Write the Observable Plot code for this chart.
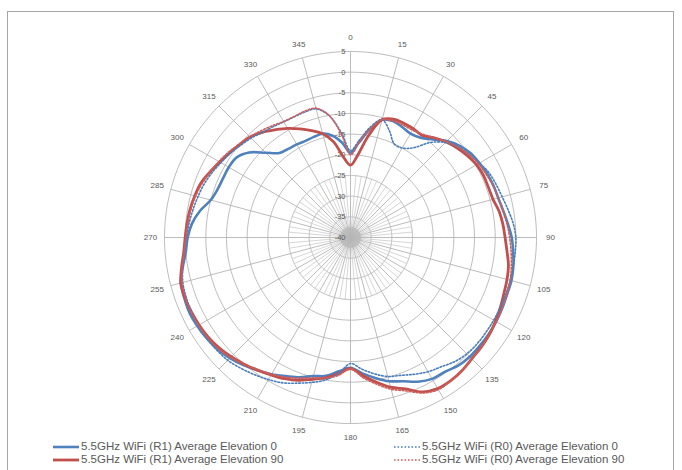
<!DOCTYPE html>
<html>
<head>
<meta charset="utf-8">
<script src="https://cdn.jsdelivr.net/npm/d3@7"></script>
<script src="https://cdn.jsdelivr.net/npm/@observablehq/plot@0.6"></script>
<style>
  body { margin: 0; background: #fff; font-family: "Liberation Sans", Arial, sans-serif; }
  #frame { position: absolute; left: 7px; top: 11px; width: 667px; height: 470px; border: 1.5px solid #a6a6a6; box-sizing: border-box; }
  #chart { position: absolute; left: 0; top: 0; }
  .lg { position: absolute; display: flex; align-items: center; font-size: 11.5px; color: #595959; white-space: nowrap; line-height: 13px; }
  .lg svg { margin-right: 2px; }
</style>
</head>
<body>
<div id="frame"></div>
<div id="chart"></div>
<div id="legend"></div>
<script>
// ---------- data ----------
const angles = [0,5,10,15,20,25,30,35,40,45,50,55,60,65,70,75,80,85,90,95,100,105,110,115,120,125,130,135,140,145,150,155,160,165,170,175,180,185,190,195,200,205,210,215,220,225,230,235,240,245,250,255,260,265,270,275,280,285,290,295,300,305,310,315,320,325,330,335,340,345,350,355];

const r1Elev0 = [-19.5,-17,-13.5,-10.5,-10,-10.5,-11,-10.5,-9,-7,-5.5,-4.5,-4,-3.5,-3.2,-3,-2.5,-1.8,-1,-0.5,0,0.3,0.3,0.5,0.7,0.8,0.8,0.8,0.5,-0.3,-0.5,-1.5,-3,-4,-5.5,-7,-8.5,-7.5,-6,-5.3,-4,-3,-1.8,-0.8,0.3,1.3,2,2.5,2.8,3,2.8,2.5,1.2,0,-0.6,-1.5,-3,-5,-5.8,-6,-6,-6.3,-8,-11,-13.3,-13.8,-14,-14.2,-14.1,-14,-15,-17];

const r1Elev90 = [-22.5,-20,-15,-10.5,-9.5,-9.5,-9.6,-9.8,-8.5,-7.3,-6.3,-5.5,-4.8,-4.5,-4.5,-4.3,-3.5,-3,-2.6,-2,-1.2,-0.8,-0.5,0,0.5,1,1.3,1.5,2,2.3,2.2,1.2,-1,-2.5,-4.5,-6.5,-8.3,-7,-5.5,-4.5,-3.2,-2.3,-1.6,-0.8,0,0.8,1.5,2,2.3,2.5,2.6,2.5,1.5,0.5,0,-0.3,-0.6,-1,-1.5,-2.5,-3.5,-4.3,-5,-5.6,-6.8,-8.2,-9.5,-11,-12.5,-14,-16.5,-20.5];

const r0Elev0 = [-19,-16.5,-13,-10.5,-12.5,-15,-15,-13.5,-10,-7.5,-6,-5,-4,-3,-2.5,-2,-1.3,-0.5,0,0,0,0,0,0,0,0,0,-0.2,-0.8,-1.8,-2.5,-3.5,-4.5,-5.2,-6.5,-8,-9.5,-7,-5,-3.7,-2.5,-1.2,-0.3,0.5,1.3,2,2.3,2.5,2.5,2.5,2.3,2,1.2,0.3,-0.3,-0.8,-1.3,-1.8,-2.3,-3,-3.8,-4.5,-5.3,-6,-6.8,-7.3,-7.7,-7.8,-7.7,-7.8,-10,-14.5];

const r0Elev90 = [-20,-17,-13.5,-10.5,-10,-10,-10,-9.5,-8.5,-7.2,-6,-5,-4.3,-3.8,-3.3,-3,-2.5,-2,-1.5,-1,-0.5,0,0.3,0.5,0.7,1,1.3,1.6,2,2.3,2.5,1.5,-0.5,-2,-4,-6,-8.3,-6.5,-5.5,-4.8,-3.8,-2.7,-1.8,-1,0,1,1.8,2.2,2.5,2.6,2.5,2.2,1.3,0.4,-0.2,-0.5,-0.8,-1.2,-1.8,-2.5,-3.2,-4,-4.8,-5.5,-6.3,-7,-7.6,-7.7,-7.5,-7.6,-10,-15];

const seriesNames = [
  "5.5GHz WiFi (R1) Average Elevation 0",
  "5.5GHz WiFi (R1) Average Elevation 90",
  "5.5GHz WiFi (R0) Average Elevation 0",
  "5.5GHz WiFi (R0) Average Elevation 90"
];
const angleTicks = [0,15,30,45,60,75,90,105,120,135,150,165,180,195,210,225,240,255,270,285,300,315,330,345];
const ringTicks = [5,0,-5,-10,-15,-20,-25,-30,-35,-40];

// ---------- config ----------
const rMin = -40, rMax = 5;
const styles = [
  {stroke: "#4f81bd", strokeWidth: 2.6, dash: null},
  {stroke: "#c0504d", strokeWidth: 2.8, dash: null},
  {stroke: "#4a7ebb", strokeWidth: 1.6, dash: "1.6,1.9"},
  {stroke: "#cf5f5b", strokeWidth: 1.6, dash: "1.6,1.9"}
];
const seriesValues = [r1Elev0, r1Elev90, r0Elev0, r0Elev90];
const rows = seriesValues.flatMap((vals, i) => vals.map((v, j) => ({series: seriesNames[i], angle: angles[j], value: v})));

const lon = a => 180 - a;                 // compass angle -> longitude
const lat = v => 90 - (v - rMin);         // dB value -> latitude
const circle = r => d3.geoCircle().center([0, 90]).radius(r).precision(1)();

const minorSpokes = d3.range(0, 360, 5).filter(a => a % 15 !== 0);
const fineSpokes = d3.range(0, 360, 1.5);

const marks = [
  Plot.geo(ringTicks.filter(v => v > rMin), {geometry: v => circle(v - rMin), stroke: "#b4b4b4", strokeWidth: 0.9, fill: "none"}),
  Plot.link(fineSpokes, {x1: lon, y1: lat(-37.5), x2: lon, y2: 90, stroke: "#b8b8b8", strokeWidth: 0.6}),
  Plot.link(minorSpokes, {x1: lon, y1: lat(-25), x2: lon, y2: 90, stroke: "#c4c4c4", strokeWidth: 0.7}),
  Plot.link(angleTicks, {x1: lon, y1: lat(rMax), x2: lon, y2: 90, stroke: "#b4b4b4", strokeWidth: 0.9}),
  Plot.text(ringTicks, {x: lon(0), y: lat, text: d => String(d), textAnchor: "end", dx: -5, fontSize: 7.5, fill: "#595959"}),
  Plot.text(angleTicks, {x: lon, y: lat(rMax + 3.4), text: d => String(d), fontSize: 8, fill: "#595959"})
];
seriesNames.forEach((name, i) => {
  const s = styles[i];
  marks.push(Plot.line(rows.filter(d => d.series === name), {
    x: d => lon(d.angle), y: d => lat(d.value),
    stroke: s.stroke, strokeWidth: s.strokeWidth, strokeDasharray: s.dash,
    curve: "catmull-rom-closed", strokeLinejoin: "round"
  }));
});

const chart = Plot.plot({
  width: 682,
  height: 446,
  marginLeft: 164,
  marginRight: 146,
  marginTop: 51,
  marginBottom: 23,
  style: {background: "transparent", fontFamily: "Liberation Sans, Arial, sans-serif", overflow: "visible"},
  projection: {
    type: "azimuthal-equidistant",
    rotate: [0, -90],
    domain: circle(rMax - rMin),
    inset: 0,
    clip: false
  },
  marks
});
document.getElementById("chart").appendChild(chart);

// ---------- legend ----------
const legendPos = [
  {left: 53, top: 440}, {left: 53, top: 453},
  {left: 394, top: 440}, {left: 394, top: 453}
];
const lg = document.getElementById("legend");
seriesNames.forEach((name, i) => {
  const s = styles[i];
  const div = document.createElement("div");
  div.className = "lg";
  div.style.left = legendPos[i].left + "px";
  div.style.top = legendPos[i].top + "px";
  div.innerHTML = `<svg width="26" height="10"><line x1="0" x2="26" y1="5" y2="5" stroke="${s.stroke}" stroke-width="${s.strokeWidth}" ${s.dash ? `stroke-dasharray="${s.dash}"` : ""}/></svg><span></span>`;
  div.querySelector("span").textContent = name;
  lg.appendChild(div);
});
</script>
</body>
</html>
